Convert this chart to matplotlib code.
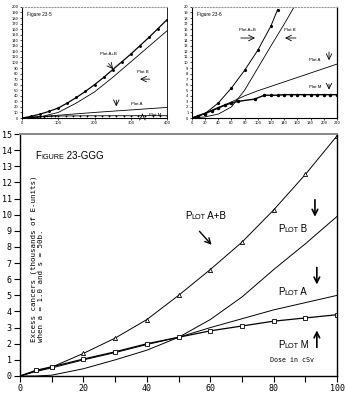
import numpy as np
import matplotlib
matplotlib.use("Agg")
import matplotlib.pyplot as plt

# ---- main chart data (dose in cSv, excess cancers in thousands) ----
dose = [0, 5, 10, 20, 30, 40, 50, 60, 70, 80, 90, 100]
plot_ab = [0, 0.3, 0.55, 1.4, 2.35, 3.5, 5.0, 6.6, 8.3, 10.3, 12.5, 14.9]
plot_b = [0, 0.0, 0.05, 0.45, 1.0, 1.6, 2.4, 3.5, 4.9, 6.6, 8.2, 9.9]
plot_a = [0, 0.28, 0.5, 1.0, 1.45, 1.95, 2.4, 3.0, 3.55, 4.1, 4.55, 5.0]
plot_m = [0, 0.35, 0.57, 1.05, 1.5, 2.0, 2.4, 2.8, 3.1, 3.4, 3.6, 3.8]

# ---- left inset data ----
dose_l = [0, 25, 50, 75, 100, 125, 150, 175, 200, 225, 250, 275, 300, 325,
          350, 375, 400]
ab_l = [0, 3, 7, 12, 18, 27, 37, 48, 60, 73, 87, 101, 115, 130, 145, 161, 177]
dose_lb = [0, 50, 100, 150, 200, 250, 300, 350, 400]
b_l = [0, 2, 10, 27, 47, 73, 101, 129, 157]
a_l = [0, 2.5, 5, 7.5, 10, 12.3, 14.5, 16.8, 19]
dose_lm = [0, 10, 20, 30, 40, 50, 60, 70, 80, 90, 100, 120, 140, 160, 180, 200,
           220, 240, 260, 280, 300, 320, 340, 360, 380, 400]
m_l = [0, 0.5, 1, 1.4, 1.8, 2.2, 2.5, 2.8, 3.1, 3.3, 3.5, 3.7, 3.8, 3.9, 4, 4,
       4, 4.1, 4.1, 4.1, 4.1, 4.2, 4.2, 4.2, 4.2, 4.2]

# ---- right inset data ----
dose_r = [0, 20, 40, 60, 80, 100, 120, 130]
ab_r = [0, 0.8, 2.7, 5.4, 8.6, 12.2, 16.6, 19.5]
dose_rb = [0, 20, 40, 60, 80, 100, 120, 140, 155]
b_r = [0, 0.2, 0.7, 2.0, 5.0, 9.0, 13.0, 16.9, 20]
dose_ra = [0, 20, 40, 60, 80, 100, 120, 140, 160, 180, 200, 220]
a_r = [0, 0.9, 1.9, 2.9, 4.0, 4.9, 5.7, 6.5, 7.3, 8.1, 8.9, 9.7]
dose_rm = [0, 10, 20, 30, 40, 50, 60, 70, 95, 110, 120, 130, 140, 150, 160, 170,
           180, 190, 200, 210, 220]
m_r = [0, 0.4, 0.8, 1.3, 1.8, 2.3, 2.7, 3.0, 3.4, 4.1, 4.1, 4.1, 4.2, 4.2, 4.2,
       4.2, 4.2, 4.2, 4.2, 4.2, 4.2]

mono = "DejaVu Sans Mono"
sans = "Liberation Sans"
lw = 0.7


def small_caps(axis, x, y, parts, big, small):
    # parts: list of (text, is_big); drawn one after another on one baseline
    t = axis.text(x, y, parts[0][0], family=sans, va="bottom",
                  fontsize=big if parts[0][1] else small)
    for txt, is_big in parts[1:]:
        t = axis.annotate(txt, xy=(1, 0), xycoords=t, va="bottom",
                          family=sans, fontsize=big if is_big else small)
    return t


fig = plt.figure(figsize=(3.47, 3.94), dpi=100)

# ================= main plot =================
ax = fig.add_axes([0.0576, 0.0457, 0.914, 0.614])
ax.plot(dose, plot_ab, color="black", lw=lw, marker="^", mfc="white",
        ms=3, mew=0.6, markevery=list(range(3, 12)))
ax.plot(dose, plot_b, color="black", lw=lw)
ax.plot(dose, plot_a, color="black", lw=lw)
ax.plot(dose, plot_m, color="black", lw=0.9, marker="s", mfc="white",
        ms=3, mew=0.6, markevery=list(range(1, 12)))
ax.set_xlim(0, 100)
ax.set_ylim(0, 15)
ax.set_xticks(range(0, 101, 20))
ax.set_xticks(range(0, 101, 10), minor=True)
ax.set_yticks(range(0, 16))
ax.tick_params(axis="both", direction="out", length=4, width=0.8,
               labelsize=6, pad=2)
ax.tick_params(axis="x", which="minor", length=4, width=0.8)
for lab in ax.get_xticklabels() + ax.get_yticklabels():
    lab.set_family(mono)
for s in ["left", "bottom", "right"]:
    ax.spines[s].set_linewidth(1.0)
ax.spines["top"].set_color("#888888")
ax.spines["top"].set_linewidth(1.4)

small_caps(ax, 4.8, 13.3, [("F", True), ("IGURE", False), (" 23-GGG", True)],
           7, 5.2)
ax.text(4.4, 2.1, "Excess cancers (thousands of E-units)", family=mono,
        fontsize=5.4, rotation=90, ha="center", va="bottom")
ax.text(6.7, 2.1, "when a = 1.0 and s = 50b.", family=mono,
        fontsize=5.4, rotation=90, ha="center", va="bottom")

small_caps(ax, 52, 9.6, [("P", True), ("LOT", False), (" A+B", True)], 7, 5.2)
ax.annotate("", xy=(61, 8.0), xytext=(56, 9.1),
            arrowprops=dict(arrowstyle="->", lw=1.0, color="black"))
small_caps(ax, 81.3, 8.8, [("P", True), ("LOT", False), (" B", True)], 7, 5.2)
ax.annotate("", xy=(93, 9.7), xytext=(93, 11.1),
            arrowprops=dict(arrowstyle="->", lw=1.2, color="black"))
small_caps(ax, 81.3, 4.9, [("P", True), ("LOT", False), (" A", True)], 7, 5.2)
ax.annotate("", xy=(93.6, 5.5), xytext=(93.6, 6.9),
            arrowprops=dict(arrowstyle="->", lw=1.2, color="black"))
small_caps(ax, 81.3, 1.6, [("P", True), ("LOT", False), (" M", True)], 7, 5.2)
ax.annotate("", xy=(93.6, 3.0), xytext=(93.6, 1.6),
            arrowprops=dict(arrowstyle="->", lw=1.2, color="black"))
ax.text(78.7, 1.0, "Dose in cSv", family=mono, fontsize=4.8, va="center")

# ================= left inset =================
axl = fig.add_axes([0.0634, 0.7005, 0.418, 0.282])
axl.plot(dose_l, ab_l, color="black", lw=0.9, marker="o", ms=1.1)
axl.plot(dose_lb, b_l, color="black", lw=0.6)
axl.plot(dose_lb, a_l, color="black", lw=0.6)
axl.plot(dose_lm, m_l, color="black", lw=0.6, marker="+", ms=2, mew=0.5)
axl.set_xlim(0, 400)
axl.set_ylim(0, 200)
axl.set_xticks(range(0, 401, 100))
axl.set_yticks(range(0, 201, 10))
axl.tick_params(axis="both", direction="out", length=1.5, width=0.5,
                labelsize=2.6, pad=1)
axl.spines["top"].set_linestyle(":")
axl.spines["top"].set_color("#999999")
axl.spines["right"].set_linewidth(0.6)
axl.text(14, 186, "Figure 23-5", family=sans, fontsize=3.4, va="center")
axl.text(215, 115, "Plot A+B", family=sans, fontsize=3.2, va="center")
axl.annotate("", xy=(256, 84), xytext=(234, 102),
             arrowprops=dict(arrowstyle="->", lw=0.6, color="black"))
axl.text(318, 83, "Plot B", family=sans, fontsize=3.2, va="center")
axl.annotate("", xy=(318, 70), xytext=(360, 70),
             arrowprops=dict(arrowstyle="->", lw=0.6, color="black"))
axl.text(300, 25, "Plot A", family=sans, fontsize=3.2, va="center")
axl.annotate("", xy=(260, 16), xytext=(260, 37),
             arrowprops=dict(arrowstyle="->", lw=0.6, color="black"))
axl.text(350, 6, "Plot M", family=sans, fontsize=3.2, va="center")
axl.annotate("", xy=(332, 13), xytext=(332, 1),
             arrowprops=dict(arrowstyle="->", lw=0.6, color="black"))

# ================= right inset =================
axr = fig.add_axes([0.553, 0.7005, 0.418, 0.282])
axr.plot(dose_r, ab_r, color="black", lw=0.7, marker="o", ms=1.3)
axr.plot(dose_rb, b_r, color="black", lw=0.6)
axr.plot(dose_ra, a_r, color="black", lw=0.6)
axr.plot(dose_rm, m_r, color="black", lw=1.0, marker="o", ms=1.5)
axr.set_xlim(0, 220)
axr.set_ylim(0, 20)
axr.set_xticks(range(0, 221, 20))
axr.set_yticks(range(0, 21))
axr.tick_params(axis="both", direction="out", length=1.5, width=0.5,
                labelsize=2.6, pad=1)
axr.spines["top"].set_linestyle(":")
axr.spines["top"].set_color("#999999")
axr.spines["right"].set_linewidth(0.9)
axr.text(7.6, 18.6, "Figure 23-6", family=sans, fontsize=3.4, va="center")
axr.text(72, 15.9, "Plot A+B", family=sans, fontsize=3.2, va="center")
axr.annotate("", xy=(100, 14.4), xytext=(70, 14.4),
             arrowprops=dict(arrowstyle="->", lw=0.6, color="black"))
axr.text(140, 15.9, "Plot B", family=sans, fontsize=3.2, va="center")
axr.annotate("", xy=(137, 14.4), xytext=(162, 14.4),
             arrowprops=dict(arrowstyle="->", lw=0.6, color="black"))
axr.text(178, 10.5, "Plot A", family=sans, fontsize=3.2, va="center")
axr.annotate("", xy=(208, 9.9), xytext=(208, 12.4),
             arrowprops=dict(arrowstyle="->", lw=0.6, color="black"))
axr.text(178, 5.6, "Plot M", family=sans, fontsize=3.2, va="center")
axr.annotate("", xy=(208, 4.6), xytext=(208, 6.6),
             arrowprops=dict(arrowstyle="->", lw=0.6, color="black"))

fig.savefig("out.png", dpi=100)
